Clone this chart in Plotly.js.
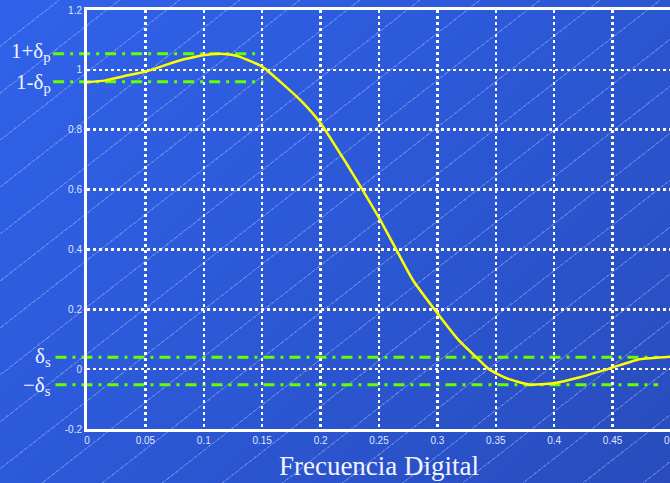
<!DOCTYPE html>
<html>
<head>
<meta charset="utf-8">
<script src="https://cdn.plot.ly/plotly-3.0.1.min.js"></script>
<style>
html,body{margin:0;padding:0;width:670px;height:483px;overflow:hidden;}
body{
  background:
    repeating-linear-gradient(142deg, rgba(255,255,255,0) 0px, rgba(255,255,255,0) 36px, rgba(200,215,255,0.32) 36px, rgba(200,215,255,0.32) 37px),
    linear-gradient(135deg, #3062ea 0%, #2c58d6 50%, #284cbc 100%);
}
#chart{width:680px;height:483px;}
</style>
</head>
<body>
<div id="chart"></div>
<script>
// Frequency response
var freq = [0, 0.015, 0.033, 0.05, 0.067, 0.084, 0.101, 0.118, 0.129, 0.15, 0.167, 0.184, 0.2, 0.222, 0.235, 0.251, 0.265, 0.279, 0.299, 0.318, 0.334, 0.344, 0.359, 0.379, 0.399, 0.422, 0.448, 0.473, 0.5];
var mag  = [0.959, 0.964, 0.98, 0.994, 1.016, 1.036, 1.05, 1.053, 1.046, 1.011, 0.955, 0.894, 0.822, 0.688, 0.605, 0.499, 0.398, 0.298, 0.192, 0.098, 0.037, 0.0, -0.03, -0.052, -0.047, -0.027, 0.003, 0.033, 0.042];

// Tolerance levels
var passUpper = 1.054, passLower = 0.96;
var stopUpper = 0.04, stopLower = -0.052;
var passSpan = [-0.029, 0.151];
var stopSpan = [-0.027, 0.489];
var labelX = -0.029;

var xTicks = [0, 0.05, 0.1, 0.15, 0.2, 0.25, 0.3, 0.35, 0.4, 0.45, 0.5];
var xTickText = ['0', '0.05', '0.1', '0.15', '0.2', '0.25', '0.3', '0.35', '0.4', '0.45', '0.5'];
var yTicks = [-0.2, 0, 0.2, 0.4, 0.6, 0.8, 1, 1.2];
var yTickText = ['-0.2', '0', '0.2', '0.4', '0.6', '0.8', '1', '1.2'];

var xRange = [0, 0.5], yRange = [-0.2, 1.2];
function px(v){ return (v - xRange[0]) / (xRange[1] - xRange[0]); }

var green = '#66ff00';
function tol(y, span){
  return {type:'line', xref:'paper', yref:'y', x0:px(span[0]), x1:px(span[1]), y0:y, y1:y,
          layer:'between', line:{color:green, width:3, dash:'11px,6px,3px,6px'}};
}

var labelFont = {family:'Liberation Serif, Times New Roman, serif', size:21, color:'#f2f4ff'};
function lab(txt, y){
  return {xref:'paper', yref:'y', x:px(labelX), y:y, text:txt, showarrow:false, xanchor:'right', yanchor:'middle', font:labelFont};
}

var data = [{
  x: freq, y: mag, type:'scatter', mode:'lines',
  line:{color:'#ffff00', width:2.5, shape:'spline', smoothing:0.5},
  hoverinfo:'skip'
}];

var tickFont = {family:'Liberation Sans, Arial, sans-serif', size:10, color:'#dfe6ff'};

var layout = {
  width:680, height:483,
  margin:{l:87, r:9, t:10, b:54},
  paper_bgcolor:'rgba(0,0,0,0)', plot_bgcolor:'rgba(0,0,0,0)',
  showlegend:false,
  xaxis:{range:xRange, tickvals:xTicks, ticktext:xTickText, tickfont:tickFont,
         showgrid:true, gridcolor:'#ffffff', gridwidth:2.5, griddash:'dot',
         zeroline:false, showline:true, linecolor:'#ffffff', linewidth:3, mirror:true,
         ticks:'',
         title:{text:'Frecuencia Digital', font:{family:'Liberation Serif, Times New Roman, serif', size:27, color:'#f2f4ff'}, standoff:12}},
  yaxis:{range:yRange, tickvals:yTicks, ticktext:yTickText, tickfont:tickFont,
         showgrid:true, gridcolor:'#ffffff', gridwidth:2.5, griddash:'dot',
         zeroline:false, showline:true, linecolor:'#ffffff', linewidth:3, mirror:true,
         ticks:''},
  shapes:[tol(passUpper, passSpan), tol(passLower, passSpan), tol(stopUpper, stopSpan), tol(stopLower, stopSpan)],
  annotations:[
    lab('1+δ<sub>p</sub>', passUpper + 0.005),
    lab('1-δ<sub>p</sub>', passLower - 0.005),
    lab('δ<sub>s</sub>', stopUpper + 0.0),
    lab('−δ<sub>s</sub>', stopLower - 0.005)
  ]
};

Plotly.newPlot('chart', data, layout, {displayModeBar:false, staticPlot:true});
</script>
</body>
</html>
